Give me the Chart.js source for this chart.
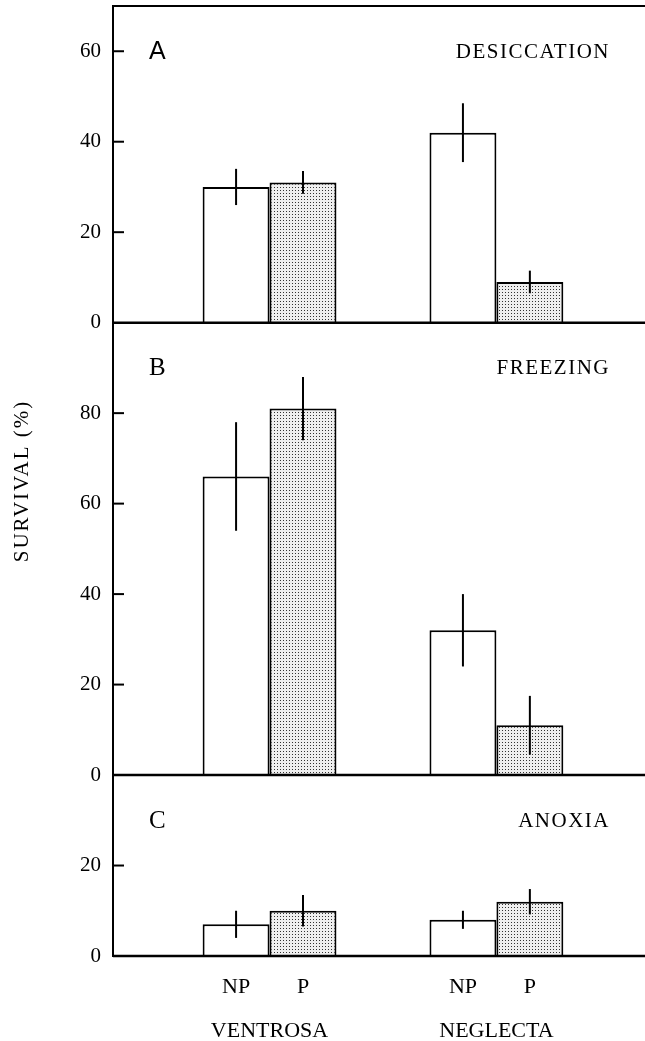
<!DOCTYPE html>
<html><head><meta charset="utf-8">
<script src="https://cdn.jsdelivr.net/npm/chart.js@4.4.1/dist/chart.umd.min.js"></script>
<style>html,body{margin:0;padding:0;background:#fff;} canvas{display:block;}</style>
</head><body>
<canvas id="c" width="645" height="1041"></canvas>
<script>
// ---- data ----
const groups = ['VENTROSA', 'NEGLECTA'];
const groupPositions = [1, 2];
const treatments = ['NP', 'P'];
const panels = ['A', 'B', 'C'];
const panelTitles = ['DESICCATION', 'FREEZING', 'ANOXIA'];
const panelMax = [70, 100, 40];
const panelTicks = [[0, 20, 40, 60], [0, 20, 40, 60, 80], [0, 20]];
const desiccationNP = [30, 42];
const desiccationP = [31, 9];
const desiccationErrNP = [4, 6.5];
const desiccationErrP = [2.5, 2.5];
const freezingNP = [66, 32];
const freezingP = [81, 11];
const freezingErrNP = [12, 8];
const freezingErrP = [7, 6.5];
const anoxiaNP = [7, 8];
const anoxiaP = [10, 12];
const anoxiaErrNP = [3, 2];
const anoxiaErrP = [3.5, 2.8];
const yTitle = 'SURVIVAL (%)';
const xRange = [0.31, 2.655];

const panelValues = [
  [desiccationNP, desiccationP, desiccationErrNP, desiccationErrP],
  [freezingNP, freezingP, freezingErrNP, freezingErrP],
  [anoxiaNP, anoxiaP, anoxiaErrNP, anoxiaErrP]
];

const canvas = document.getElementById('c');
const ctx = canvas.getContext('2d');

function stipple() {
  const t = document.createElement('canvas');
  t.width = 3; t.height = 3;
  const g = t.getContext('2d');
  g.fillStyle = '#efefef'; g.fillRect(0, 0, 3, 3);
  g.fillStyle = '#333'; g.fillRect(1, 1, 1, 1);
  return ctx.createPattern(t, 'repeat');
}
const dotFill = stipple();

const SERIF = '"Liberation Serif", "Times New Roman", serif';
const SANS = '"Liberation Sans", Arial, sans-serif';
const letterFonts = ['25px ' + SANS, '25px ' + SERIF, '25px ' + SERIF];

const datasets = [];
panels.forEach((p, k) => {
  const [np, pp, enp, ep] = panelValues[k];
  datasets.push({
    label: p + ' NP', yAxisID: 'y' + p, stack: 'NP',
    data: groupPositions.map((x, i) => ({x: x, y: np[i]})),
    errors: enp, treatment: treatments[0],
    backgroundColor: '#ffffff', borderColor: '#000', borderWidth: 2
  });
  datasets.push({
    label: p + ' P', yAxisID: 'y' + p, stack: 'P',
    data: groupPositions.map((x, i) => ({x: x, y: pp[i]})),
    errors: ep, treatment: treatments[1],
    backgroundColor: dotFill, borderColor: '#000', borderWidth: 2
  });
});

function noPad(s) { s.paddingTop = 0; s.paddingBottom = 0; s.paddingLeft = 0; s.paddingRight = 0; }

function yScale(k) {
  return {
    type: 'linear', position: 'left', stack: 'panels', stackWeight: panelMax[k],
    weight: 3 - k, min: 0, max: panelMax[k], stacked: false, offset: false,
    afterBuildTicks: s => { s.ticks = panelTicks[k].map(v => ({value: v})); },
    afterFit: s => { s.width = 113; noPad(s); },
    ticks: {autoSkip: false, color: '#000', padding: 12, font: {family: SERIF, size: 21}},
    grid: {display: false, drawTicks: false},
    border: {display: true, color: '#000', width: 2}
  };
}

const decor = {
  id: 'decor',
  afterDatasetsDraw(chart) {
    const c = chart.ctx, ca = chart.chartArea;
    c.save();
    c.strokeStyle = '#000'; c.lineCap = 'butt';
    // baselines, inward ticks and top frame
    panels.forEach(p => {
      const s = chart.scales['y' + p];
      const y0 = s.getPixelForValue(0);
      c.lineWidth = 2.5;
      c.beginPath(); c.moveTo(ca.left, y0); c.lineTo(ca.right, y0); c.stroke();
      c.lineWidth = 2;
      s.ticks.forEach(t => {
        if (t.value === 0) return;
        const py = s.getPixelForValue(t.value);
        c.beginPath(); c.moveTo(ca.left, py); c.lineTo(ca.left + 11, py); c.stroke();
      });
    });
    const yA = chart.scales.yA;
    c.lineWidth = 2;
    c.beginPath(); c.moveTo(ca.left, yA.top); c.lineTo(ca.right, yA.top); c.stroke();
    // error bars
    chart.data.datasets.forEach((ds, i) => {
      const meta = chart.getDatasetMeta(i);
      const ys = chart.scales[ds.yAxisID];
      meta.data.forEach((bar, j) => {
        const v = ds.data[j].y, e = ds.errors[j];
        c.beginPath();
        c.moveTo(bar.x, ys.getPixelForValue(v - e));
        c.lineTo(bar.x, ys.getPixelForValue(v + e));
        c.stroke();
      });
    });
    // panel letters and titles
    c.fillStyle = '#000';
    c.textBaseline = 'middle';
    panels.forEach((p, k) => {
      const s = chart.scales['y' + p];
      const ty = s.top + 46;
      c.font = letterFonts[k];
      c.textAlign = 'left';
      c.letterSpacing = '0px';
      c.fillText(p, 149, ty);
      c.font = '21px ' + SERIF;
      c.textAlign = 'right';
      c.letterSpacing = '1.5px';
      c.fillText(panelTitles[k], 610, ty);
    });
    // treatment labels under bars
    c.font = '22px ' + SERIF;
    c.textAlign = 'center';
    c.letterSpacing = '0px';
    chart.data.datasets.slice(4).forEach((ds, i) => {
      const meta = chart.getDatasetMeta(4 + i);
      meta.data.forEach(bar => c.fillText(ds.treatment, bar.x, ca.bottom + 31));
    });
    // y title
    c.save();
    c.translate(22, (ca.top + ca.bottom) / 2);
    c.rotate(-Math.PI / 2);
    c.font = '21px ' + SERIF;
    c.letterSpacing = '2px';
    c.textAlign = 'center';
    c.fillText(yTitle, 0, 0);
    c.restore();
    c.restore();
  }
};

new Chart(ctx, {
  type: 'bar',
  data: {datasets},
  options: {
    responsive: false,
    animation: false,
    layout: {padding: {top: 6, right: 0, bottom: 0, left: 0}},
    categoryPercentage: 0.59,
    barPercentage: 1,
    plugins: {legend: {display: false}, tooltip: {enabled: false}},
    scales: {
      x: {
        type: 'linear', position: 'bottom', min: xRange[0], max: xRange[1], offset: false,
        afterBuildTicks: s => { s.ticks = groupPositions.map(v => ({value: v})); },
        afterFit: s => { s.height = 85; noPad(s); },
        ticks: {
          autoSkip: false, maxRotation: 0, color: '#000', padding: 62,
          font: {family: SERIF, size: 22},
          callback: v => groups[groupPositions.indexOf(v)]
        },
        grid: {display: false, drawTicks: false, offset: false},
        border: {display: false}
      },
      yA: yScale(0),
      yB: yScale(1),
      yC: yScale(2)
    }
  },
  plugins: [decor]
});
</script>
</body></html>
